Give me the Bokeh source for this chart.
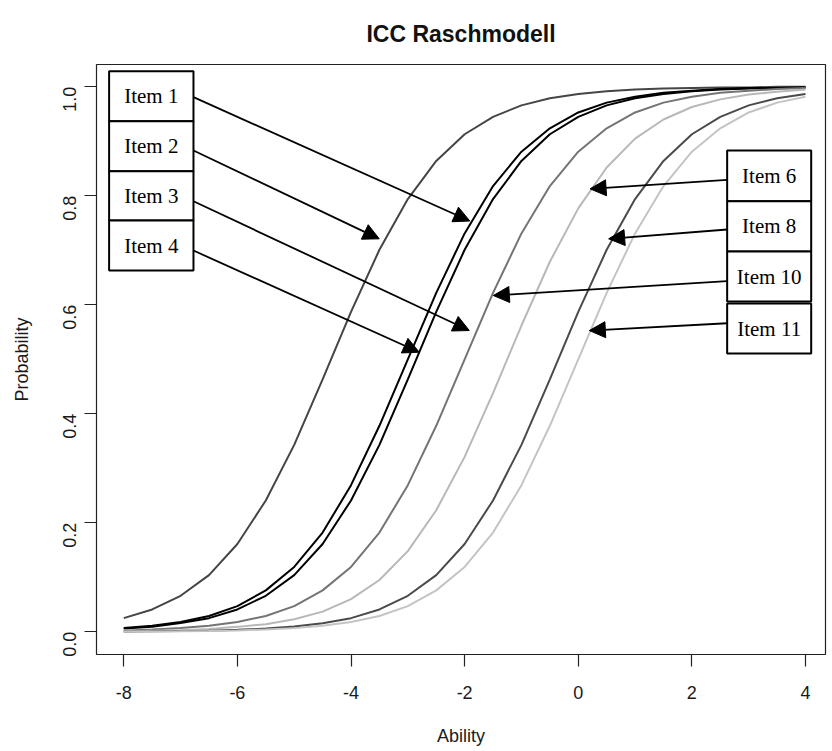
import math
from bokeh.plotting import figure
from bokeh.models import Range1d, FixedTicker, NumeralTickFormatter, Arrow, NormalHead
from bokeh.core.properties import value
from bokeh.embed import file_html
from bokeh.resources import INLINE

# ---------------- data ----------------
ability = [-8.0, -7.5, -7.0, -6.5, -6.0, -5.5, -5.0, -4.5, -4.0, -3.5, -3.0, -2.5,
           -2.0, -1.5, -1.0, -0.5, 0.0, 0.5, 1.0, 1.5, 2.0, 2.5, 3.0, 3.5, 4.0]

curve_a = [0.025, 0.041, 0.066, 0.104, 0.161, 0.241, 0.343, 0.463, 0.587, 0.701, 0.794, 0.864,
           0.913, 0.945, 0.966, 0.979, 0.987, 0.992, 0.995, 0.997, 0.998, 0.999, 0.999, 1.000, 1.000]
curve_b = [0.007, 0.011, 0.018, 0.029, 0.047, 0.076, 0.119, 0.182, 0.269, 0.378, 0.500, 0.622,
           0.731, 0.818, 0.881, 0.924, 0.953, 0.971, 0.982, 0.989, 0.993, 0.996, 0.998, 0.998, 0.999]
curve_c = [0.006, 0.009, 0.016, 0.025, 0.041, 0.066, 0.104, 0.161, 0.241, 0.343, 0.463, 0.587,
           0.701, 0.794, 0.864, 0.913, 0.945, 0.966, 0.979, 0.987, 0.992, 0.995, 0.997, 0.998, 0.999]
curve_d = [0.002, 0.004, 0.007, 0.011, 0.018, 0.029, 0.047, 0.076, 0.119, 0.182, 0.269, 0.378,
           0.500, 0.622, 0.731, 0.818, 0.881, 0.924, 0.953, 0.971, 0.982, 0.989, 0.993, 0.996, 0.998]
curve_e = [0.001, 0.002, 0.003, 0.005, 0.009, 0.014, 0.023, 0.037, 0.060, 0.095, 0.148, 0.223,
           0.321, 0.438, 0.562, 0.679, 0.777, 0.852, 0.905, 0.940, 0.963, 0.977, 0.986, 0.991, 0.995]
curve_f = [0.0005, 0.0008, 0.0013, 0.0021, 0.0035, 0.0058, 0.0095, 0.0155, 0.025, 0.041, 0.066, 0.104,
           0.161, 0.241, 0.343, 0.463, 0.587, 0.701, 0.794, 0.864, 0.913, 0.945, 0.966, 0.979, 0.987]
curve_g = [0.0003, 0.0006, 0.0009, 0.0015, 0.0025, 0.0041, 0.0067, 0.011, 0.018, 0.029, 0.047, 0.076,
           0.119, 0.182, 0.269, 0.378, 0.500, 0.622, 0.731, 0.818, 0.881, 0.924, 0.953, 0.971, 0.982]

curves = [curve_a, curve_b, curve_c, curve_d, curve_e, curve_f, curve_g]
curve_colors = ["#454545", "#000000", "#000000", "#747474", "#b8b8b8", "#4a4a4a", "#c4c4c4"]

x_ticks = [-8, -6, -4, -2, 0, 2, 4]
x_tick_labels = ["-8", "-6", "-4", "-2", "0", "2", "4"]
y_ticks = [0.0, 0.2, 0.4, 0.6, 0.8, 1.0]

# annotation boxes (labels) and arrow targets
left_labels = ["Item 1", "Item 2", "Item 3", "Item 4"]
left_box_x = (-8.258, -6.773)
left_box_y = [(1.0286, 0.9369), (0.9369, 0.8451), (0.8451, 0.7547), (0.7547, 0.6629)]
left_arrow_start_y = [0.981, 0.8831, 0.790, 0.6996]
left_arrow_tip = [(-1.909, 0.7538), (-3.503, 0.7211), (-1.918, 0.5528), (-2.799, 0.513)]

right_labels = ["Item 6", "Item 8", "Item 10", "Item 11"]
right_box_x = (2.621, 4.100)
right_box_y = [(0.8831, 0.7901), (0.7901, 0.6978), (0.6978, 0.6061), (0.6024, 0.5106)]
right_arrow_start_y = [0.8294, 0.7382, 0.6433, 0.5662]
right_arrow_tip = [(0.208, 0.8128), (0.535, 0.7211), (-1.495, 0.6171), (0.195, 0.5528)]

# ---------------- figure ----------------
p = figure(frame_width=729, frame_height=590,
           x_range=Range1d(-8.48, 4.352), y_range=Range1d(-0.0417, 1.041),
           output_backend="svg", toolbar_location=None,
           min_border_left=96, min_border_top=63, min_border_right=4, min_border_bottom=92)

p.title.text = "ICC Raschmodell"
p.title.align = "center"
p.title.text_font = "Liberation Sans"
p.title.text_font_size = "23px"
p.title.text_font_style = "bold"
p.title.text_color = "#111111"
p.title.standoff = 36
p.title.offset = 16

p.background_fill_color = "white"
p.border_fill_color = "white"
p.outline_line_color = "#222222"
p.outline_line_width = 1.2
p.xgrid.visible = False
p.ygrid.visible = False

for ax in (p.xaxis[0], p.yaxis[0]):
    ax.axis_line_color = None
    ax.major_tick_line_color = "#222222"
    ax.major_tick_line_width = 1.2
    ax.major_tick_out = 12
    ax.major_tick_in = 0
    ax.minor_tick_line_color = None
    ax.major_label_text_font = "Liberation Sans"
    ax.major_label_text_font_size = "18px"
    ax.major_label_text_color = "#1a1a1a"
    ax.axis_label_text_font = "Liberation Sans"
    ax.axis_label_text_font_size = "18px"
    ax.axis_label_text_font_style = "normal"
    ax.axis_label_text_color = "#1a1a1a"

p.xaxis.ticker = FixedTicker(ticks=x_ticks)
p.xaxis.major_label_overrides = {t: l for t, l in zip(x_ticks, x_tick_labels)}
p.xaxis.major_label_standoff = 19
p.xaxis.axis_label = "Ability"
p.xaxis.axis_label_standoff = 24

p.yaxis.ticker = FixedTicker(ticks=y_ticks)
p.yaxis.formatter = NumeralTickFormatter(format="0.0")
p.yaxis.major_label_orientation = math.pi / 2
p.yaxis.major_label_standoff = 15
p.yaxis.axis_label = "Probability"
p.yaxis.axis_label_standoff = 22

for ys, col in zip(curves, curve_colors):
    p.line(ability, ys, line_color=col, line_width=2)

# boxes
serif = value("Liberation Serif")
p.quad(left=[left_box_x[0]] * 4, right=[left_box_x[1]] * 4,
       top=[b[0] for b in left_box_y], bottom=[b[1] for b in left_box_y],
       fill_color="white", line_color="black", line_width=2)
p.quad(left=[right_box_x[0]] * 4, right=[right_box_x[1]] * 4,
       top=[b[0] for b in right_box_y], bottom=[b[1] for b in right_box_y],
       fill_color="white", line_color="black", line_width=2)

p.text(x=[(left_box_x[0] + left_box_x[1]) / 2] * 4,
       y=[(b[0] + b[1]) / 2 for b in left_box_y], text=left_labels,
       text_font=serif, text_font_size="21px", text_align="center",
       text_baseline="middle", text_color="black")
p.text(x=[(right_box_x[0] + right_box_x[1]) / 2] * 4,
       y=[(b[0] + b[1]) / 2 for b in right_box_y], text=right_labels,
       text_font=serif, text_font_size="21px", text_align="center",
       text_baseline="middle", text_color="black")

# arrows
for sy, (tx, ty) in zip(left_arrow_start_y, left_arrow_tip):
    p.add_layout(Arrow(x_start=left_box_x[1], y_start=sy, x_end=tx, y_end=ty,
                       line_color="black", line_width=1.8,
                       end=NormalHead(size=16, fill_color="black", line_color="black", line_width=1)))
for sy, (tx, ty) in zip(right_arrow_start_y, right_arrow_tip):
    p.add_layout(Arrow(x_start=right_box_x[0], y_start=sy, x_end=tx, y_end=ty,
                       line_color="black", line_width=1.8,
                       end=NormalHead(size=16, fill_color="black", line_color="black", line_width=1)))

open("out.html", "w").write(file_html(p, INLINE))
